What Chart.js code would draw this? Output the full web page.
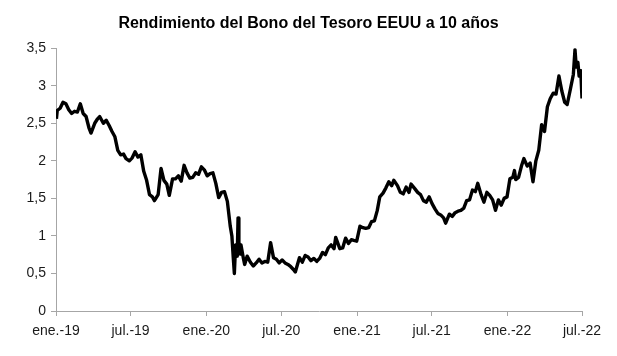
<!DOCTYPE html>
<html>
<head>
<meta charset="utf-8">
<script src="https://cdn.jsdelivr.net/npm/chart.js@4/dist/chart.umd.min.js"></script>
<style>
  html, body { margin: 0; padding: 0; background: #ffffff; }
  #wrap { width: 617px; height: 356px; position: relative; }
</style>
</head>
<body>
<div id="wrap"><canvas id="c" width="617" height="356"></canvas></div>
<script>
const title = 'Rendimiento del Bono del Tesoro EEUU a 10 años';

const dates = [
  '2019-01-02','2019-01-04','2019-01-11','2019-01-18','2019-01-25','2019-02-01','2019-02-08','2019-02-15','2019-02-22',
  '2019-03-01','2019-03-08','2019-03-15','2019-03-22','2019-03-27','2019-04-05','2019-04-12','2019-04-17','2019-04-26',
  '2019-05-03','2019-05-10','2019-05-17','2019-05-24','2019-05-31','2019-06-07','2019-06-14','2019-06-20','2019-06-28',
  '2019-07-05','2019-07-12','2019-07-19','2019-07-26','2019-08-02','2019-08-09','2019-08-16','2019-08-23','2019-08-28',
  '2019-09-06','2019-09-13','2019-09-20','2019-09-27','2019-10-03','2019-10-11','2019-10-18','2019-10-25','2019-11-01',
  '2019-11-08','2019-11-15','2019-11-22','2019-11-29','2019-12-06','2019-12-13','2019-12-20','2019-12-27',
  '2020-01-03','2020-01-10','2020-01-17','2020-01-24','2020-01-31','2020-02-07','2020-02-14','2020-02-21','2020-02-28',
  '2020-03-03','2020-03-06','2020-03-09','2020-03-12','2020-03-16','2020-03-18','2020-03-20','2020-03-23','2020-03-25',
  '2020-03-31','2020-04-03','2020-04-09','2020-04-17','2020-04-24','2020-05-01','2020-05-08','2020-05-15','2020-05-22',
  '2020-05-29','2020-06-05','2020-06-12','2020-06-19','2020-06-26','2020-07-03','2020-07-10','2020-07-17','2020-07-24',
  '2020-07-31','2020-08-04','2020-08-14','2020-08-21','2020-08-28','2020-09-04','2020-09-11','2020-09-18','2020-09-25',
  '2020-10-02','2020-10-09','2020-10-16','2020-10-23','2020-10-30','2020-11-06','2020-11-10','2020-11-20','2020-11-27',
  '2020-12-04','2020-12-11','2020-12-18','2020-12-24','2020-12-31',
  '2021-01-08','2021-01-15','2021-01-22','2021-01-29','2021-02-05','2021-02-12','2021-02-19','2021-02-25','2021-03-05',
  '2021-03-12','2021-03-19','2021-03-26','2021-03-31','2021-04-09','2021-04-16','2021-04-23','2021-04-30','2021-05-07',
  '2021-05-12','2021-05-21','2021-05-28','2021-06-04','2021-06-11','2021-06-18','2021-06-25','2021-07-02','2021-07-09',
  '2021-07-16','2021-07-23','2021-07-30','2021-08-04','2021-08-13','2021-08-20','2021-08-27','2021-09-03','2021-09-10',
  '2021-09-17','2021-09-24','2021-10-01','2021-10-08','2021-10-15','2021-10-21','2021-10-29','2021-11-05','2021-11-12',
  '2021-11-19','2021-11-26','2021-12-03','2021-12-10','2021-12-17','2021-12-24','2021-12-31',
  '2022-01-07','2022-01-14','2022-01-18','2022-01-21','2022-01-28','2022-02-04','2022-02-10','2022-02-18','2022-02-25',
  '2022-03-04','2022-03-11','2022-03-18','2022-03-25','2022-04-01','2022-04-08','2022-04-15','2022-04-22','2022-04-29',
  '2022-05-06','2022-05-13','2022-05-20','2022-05-26','2022-06-03','2022-06-10','2022-06-14','2022-06-17','2022-06-21',
  '2022-06-24','2022-06-28','2022-07-01'
];

const yields = [
  2.56,2.67,2.70,2.78,2.76,2.68,2.63,2.66,2.65,
  2.76,2.63,2.59,2.44,2.37,2.50,2.56,2.59,2.50,
  2.54,2.47,2.39,2.32,2.14,2.08,2.09,2.03,2.00,
  2.04,2.12,2.05,2.08,1.86,1.74,1.55,1.52,1.47,
  1.55,1.90,1.74,1.69,1.54,1.76,1.76,1.80,1.73,
  1.94,1.84,1.77,1.78,1.84,1.82,1.92,1.88,
  1.80,1.83,1.84,1.70,1.51,1.58,1.59,1.46,1.13,
  1.00,0.74,0.50,0.88,0.73,1.24,0.92,0.76,0.88,
  0.70,0.62,0.73,0.65,0.60,0.64,0.69,0.64,0.66,
  0.65,0.91,0.71,0.69,0.64,0.68,0.64,0.62,0.59,
  0.55,0.52,0.71,0.65,0.74,0.72,0.67,0.70,0.66,
  0.70,0.78,0.75,0.84,0.88,0.83,0.98,0.83,0.84,
  0.97,0.90,0.95,0.94,0.93,
  1.13,1.11,1.10,1.11,1.19,1.20,1.34,1.52,1.57,
  1.64,1.72,1.67,1.74,1.67,1.58,1.56,1.65,1.58,
  1.69,1.63,1.58,1.55,1.47,1.45,1.52,1.43,1.36,
  1.30,1.28,1.24,1.17,1.29,1.26,1.31,1.33,1.34,
  1.37,1.47,1.48,1.61,1.59,1.70,1.55,1.45,1.58,
  1.54,1.48,1.34,1.48,1.41,1.50,1.52,
  1.76,1.78,1.87,1.75,1.78,1.93,2.03,1.93,1.97,
  1.72,2.00,2.14,2.48,2.39,2.72,2.83,2.90,2.89,
  3.13,2.93,2.78,2.75,2.96,3.15,3.48,3.25,3.31,
  3.13,3.20,2.83
];

const tickDates = ['2019-01-01','2019-07-01','2020-01-01','2020-07-01','2021-01-01','2021-07-01','2022-01-01','2022-07-01'];
const tickLabels = ['ene.-19','jul.-19','ene.-20','jul.-20','ene.-21','jul.-21','ene.-22','jul.-22'];
const yTicks = [0, 0.5, 1, 1.5, 2, 2.5, 3, 3.5];

const DAY = 86400000;
const origin = Date.UTC(2019, 0, 1);
function dayNum(s) {
  const p = s.split('-').map(Number);
  return Math.round((Date.UTC(p[0], p[1] - 1, p[2]) - origin) / DAY);
}
const tickDays = tickDates.map(dayNum);
const points = dates.map((d, i) => ({ x: dayNum(d), y: yields[i] }));

const axisColor = '#a6a6a6';
const textColor = '#1a1a1a';
const font = { family: '"Liberation Sans", Arial, sans-serif', size: 14 };

new Chart(document.getElementById('c'), {
  type: 'line',
  data: {
    datasets: [{
      data: points,
      borderColor: '#000000',
      borderWidth: 3.4,
      pointRadius: 0,
      tension: 0,
      fill: false,
      borderJoinStyle: 'round'
    }]
  },
  options: {
    responsive: false,
    animation: false,
    devicePixelRatio: 1,
    layout: { padding: 0 },
    plugins: {
      legend: { display: false },
      tooltip: { enabled: false },
      title: {
        display: true,
        text: title,
        color: '#000000',
        font: { family: '"Liberation Sans", Arial, sans-serif', size: 16, weight: 'bold' },
        padding: { top: 14, bottom: 15 }
      }
    },
    scales: {
      x: {
        type: 'linear',
        min: tickDays[0],
        max: tickDays[tickDays.length - 1],
        afterBuildTicks: (axis) => { axis.ticks = tickDays.map(v => ({ value: v })); },
        afterFit: (axis) => { axis.height = 45; },
        ticks: {
          autoSkip: false,
          maxRotation: 0,
          minRotation: 0,
          color: textColor,
          font: font,
          padding: 7,
          callback: (v) => tickLabels[tickDays.indexOf(v)]
        },
        grid: { drawOnChartArea: false, drawTicks: true, tickLength: 5, color: axisColor },
        border: { display: true, color: axisColor, width: 1 }
      },
      y: {
        min: 0,
        max: 3.5,
        afterBuildTicks: (axis) => { axis.ticks = yTicks.map(v => ({ value: v })); },
        afterFit: (axis) => { axis.width = 56; },
        ticks: {
          color: textColor,
          font: font,
          padding: 5,
          callback: (v) => String(v).replace('.', ',')
        },
        grid: { drawOnChartArea: false, drawTicks: true, tickLength: 5, color: axisColor },
        border: { display: true, color: axisColor, width: 1 }
      },
      yRight: {
        position: 'right',
        min: 0,
        max: 3.5,
        afterFit: (axis) => { axis.width = 35; },
        ticks: { display: false },
        grid: { display: false, drawTicks: false },
        border: { display: false }
      }
    }
  }
});
</script>
</body>
</html>
